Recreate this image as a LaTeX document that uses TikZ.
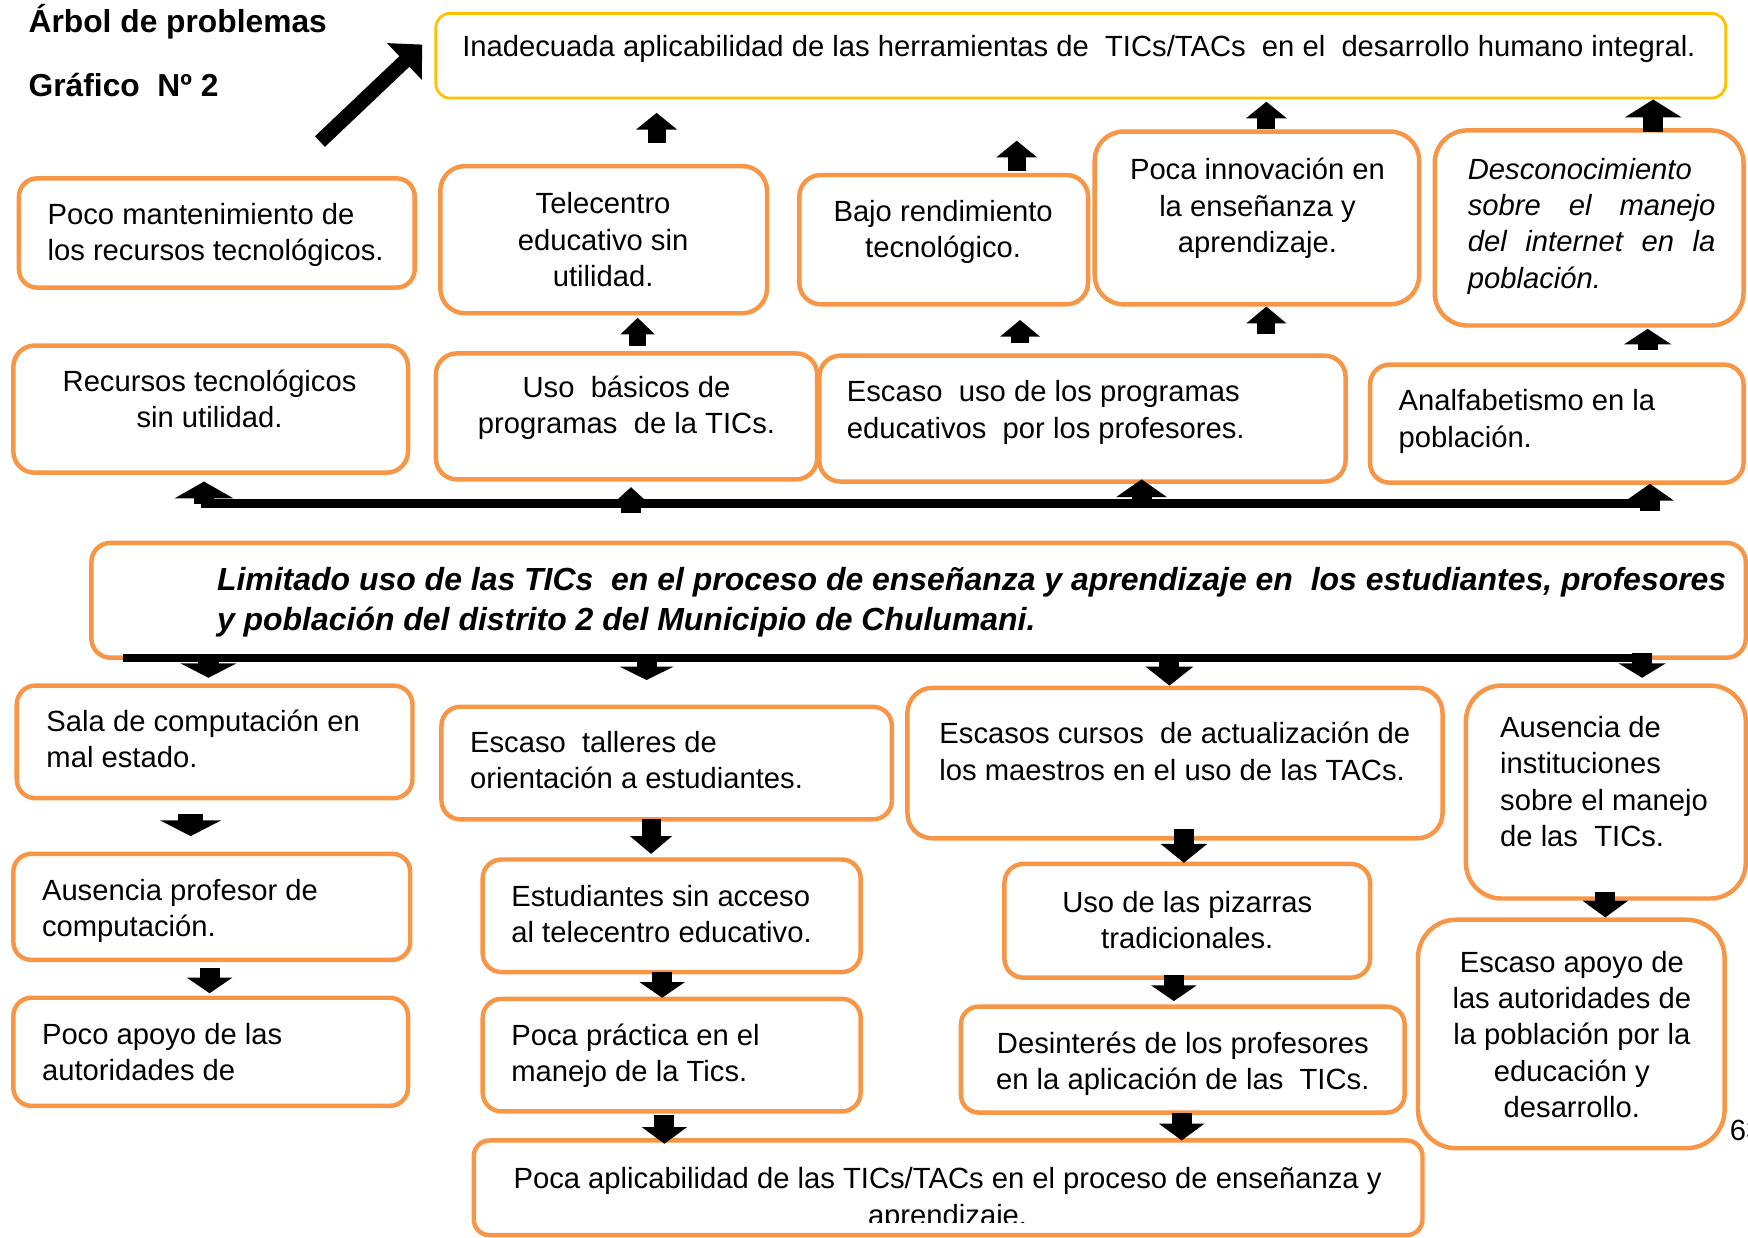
\documentclass[tikz,border=0pt]{standalone}
\usepackage{fontspec}
\setmainfont{Liberation Sans}
\usetikzlibrary{arrows.meta,calc}
\definecolor{orng}{HTML}{F79646}
\definecolor{yel}{HTML}{FFC000}
\tikzset{
 obox/.style={draw=orng, line width=0.04cm, fill=white, inner sep=0pt},
 ybox/.style={draw=yel, line width=0.025cm, fill=white, inner sep=0pt},
 txt/.style={inner sep=0pt, font=\fontsize{7.45}{9.25}\selectfont},
 ttl/.style={inner sep=0pt, font=\fontsize{8.1}{10}\selectfont\bfseries},
 mtxt/.style={inner sep=0pt, align=left, font=\fontsize{8.15}{10.24}\selectfont\bfseries\itshape},
 blkar/.style n args={3}{line width=#1cm, -{Triangle[width=#2cm,length=#3cm]}},
 barline/.style={line width=0.08cm}
}
\newcommand\mybox[6]{%
 \pgfmathsetmacro\mybw{(#4-#2)*0.01}%
 \pgfmathsetmacro\mybh{(#5-#3)*0.01}%
 \pgfmathsetmacro\mybr{0.167*min(#4-#2,#5-#3)*0.01}%
 \node[#6, minimum width=\mybw cm, minimum height=\mybh cm, rounded corners=\mybr cm] (#1) at ({(#2+#4)/2},{(#3+#5)/2}) {};}
\begin{document}
\begin{tikzpicture}[x=0.01cm,y=-0.01cm]
\useasboundingbox (0,0) rectangle (1568,1110);
% titles
\node[ttl, anchor=base west] (title) at (25,29) {Árbol de problemas};
\node[ttl, anchor=base west] (graf) at (25,87) {Gráfico\ \ Nº 2};
% top box
\mybox{top}{391}{12}{1548}{88}{ybox}
\node[txt, anchor=west] (topt) at (414,44) {Inadecuada aplicabilidad de las herramientas de\ \ TICs/TACs\ \ en el\ \ desarrollo humano integral.};
% row A
\mybox{A1}{17}{160}{372}{258}{obox}
\node[txt, anchor=west, align=left] (A1t) at (42,211) {Poco mantenimiento de\\los recursos tecnológicos.};
\mybox{A2}{395}{149}{688}{281}{obox}
\node[txt, align=center] (A2t) at (541,215) {Telecentro\\educativo sin\\utilidad.};
\mybox{A3}{717}{157}{976}{273}{obox}
\node[txt, align=center] (A3t) at (846,208) {Bajo rendimiento\\tecnológico.};
\mybox{A4}{982}{118}{1273}{273}{obox}
\node[txt, align=center] (A4t) at (1128,187) {Poca innovación en\\la enseñanza y\\aprendizaje.};
\mybox{A5}{1287}{117}{1564}{292}{obox}
\node[txt, anchor=west, align=left, font=\fontsize{7.45}{9.25}\selectfont\itshape] (A5t) at (1316,203) {Desconocimiento\\\makebox[2.22cm][s]{sobre el manejo}\\\makebox[2.22cm][s]{del internet en la}\\población.};
% row B
\mybox{B1}{12}{310}{366}{424}{obox}
\node[txt, align=center] (B1t) at (188,358) {Recursos tecnológicos\\sin utilidad.};
\mybox{B2}{391}{317}{733}{430}{obox}
\node[txt, align=center] (B2t) at (562,366) {Uso\ \ básicos de\\programas\ \ de la TICs.};
\mybox{B3}{735}{319}{1207}{432}{obox}
\node[txt, anchor=west, align=left] (B3t) at (759,370) {Escaso\ \ uso de los programas\\educativos\ \ por los profesores.};
\mybox{B4}{1229}{327}{1564}{433}{obox}
\node[txt, anchor=west, align=left] (B4t) at (1254,378) {Analfabetismo en la\\población.};
% central
\mybox{M}{82}{487}{1566}{590}{obox}
\node[mtxt, anchor=west] (Mt) at (194,540) {Limitado uso de las TICs\ \ en el proceso de enseñanza y aprendizaje en\ \ los estudiantes, profesores\\y población del distrito 2 del Municipio de Chulumani.};
% row C
\mybox{C1}{15}{615}{370}{716}{obox}
\node[txt, anchor=west, align=left] (C1t) at (41,663) {Sala de computación en\\mal estado.};
\mybox{C2}{396}{634}{800}{735}{obox}
\node[txt, anchor=west, align=left] (C2t) at (421,682) {Escaso\ \ talleres de\\orientación a estudiantes.};
\mybox{C3}{814}{617}{1294}{752}{obox}
\node[txt, anchor=west, align=left] (C3t) at (842,674) {Escasos cursos\ \ de actualización de\\los maestros en el uso de las TACs.};
\mybox{C4}{1315}{615}{1566}{806}{obox}
\node[txt, anchor=west, align=left] (C4t) at (1345,701) {Ausencia de\\instituciones\\sobre el manejo\\de las\ \ TICs.};
% row D
\mybox{D1}{12}{766}{368}{861}{obox}
\node[txt, anchor=west, align=left] (D1t) at (37,817) {Ausencia profesor de\\computación.};
\mybox{D2}{433}{771}{772}{872}{obox}
\node[txt, anchor=west, align=left] (D2t) at (458,820) {Estudiantes sin acceso\\al telecentro educativo.};
\mybox{D3}{901}{775}{1229}{877}{obox}
\node[txt, align=center] (D3t) at (1065,825) {Uso de las pizarras\\tradicionales.};
\mybox{D4}{1272}{825}{1547}{1030}{obox}
\node[txt, align=center] (D4t) at (1410,928) {Escaso apoyo de\\las autoridades de\\la población por la\\educación y\\desarrollo.};
% row E
\mybox{E1}{12}{895}{366}{992}{obox}
\node[txt, anchor=west, align=left] (E1t) at (37,944) {Poco apoyo de las\\autoridades de};
\mybox{E2}{433}{896}{772}{997}{obox}
\node[txt, anchor=west, align=left] (E2t) at (458,947) {Poca práctica en el\\manejo de la Tics.};
\mybox{E3}{862}{903}{1260}{998}{obox}
\node[txt, align=center] (E3t) at (1061,954) {Desinterés de los profesores\\en la aplicación de las\ \ TICs.};
% bottom box
\mybox{F}{425}{1023}{1276}{1108}{obox}
\begin{scope}
\clip (425,1023) rectangle (1276,1097);
\node[txt, align=center] (Ft) at (850,1076) {Poca aplicabilidad de las TICs/TACs en el proceso de enseñanza y\\aprendizaje.};
\end{scope}
% page number
\node[txt, anchor=base west] (pg) at (1551,1023) {63};
% bars
\coordinate (ubl) at (180,452);
\coordinate (ubr) at (1478,452);
\draw[barline] (ubl) -- (ubr);
\coordinate (lbl) at (110,590);
\coordinate (lbr) at (1480,590);
\draw[barline, line width=0.07cm] (lbl) -- (lbr);
% diagonal arrow
\coordinate (dg1) at (287,127);
\draw[line width=0.13cm, -{Triangle[width=0.44cm,length=0.22cm]}] (dg1) -- ($(top.west)+(-11,-10)$);
% arrows A -> top
\draw[blkar={0.16}{0.36}{0.15}] ($(A2.north)+(47.5,-19)$) -- ($(top.south)+(-380.5,12)$);
\draw[blkar={0.16}{0.36}{0.15}] ($(A3.north)+(65.5,-2)$) -- ($(top.south)+(-57.5,37)$);
\draw[blkar={0.16}{0.36}{0.15}] ($(A4.north)+(8.5,0)$) -- ($(top.south)+(166.5,2)$);
\draw[blkar={0.18}{0.50}{0.16}] ($(A5.north)+(57.5,3)$) -- ($(top.south)+(513.5,0)$);
% arrows B -> A
\draw[blkar={0.15}{0.30}{0.15}] ($(B2.north)+(10,-5)$) -- ($(A2.south)+(30.5,2)$);
\draw[blkar={0.16}{0.35}{0.15}] ($(B3.north)+(-56,-9)$) -- ($(A3.south)+(68.5,12)$);
\draw[blkar={0.16}{0.35}{0.15}] ($(B3.north)+(165,-17)$) -- ($(A4.south)+(8.5,0)$);
\draw[blkar={0.18}{0.42}{0.14}] ($(B4.north)+(81.5,-11)$) -- ($(A5.south)+(52.5,1)$);
% arrows bar -> B
\draw[blkar={0.18}{0.52}{0.15}] ($(ubl)+(3,0)$) -- ($(B1.south)+(-6,6)$);
\draw[blkar={0.18}{0.34}{0.16}] ($(ubl)+(386,8)$) -- ($(B2.south)+(4,5)$);
\draw[blkar={0.18}{0.45}{0.16}] ($(ubl)+(844,0)$) -- ($(B3.south)+(53,-4)$);
\draw[blkar={0.18}{0.42}{0.15}] ($(ubl)+(1300,6)$) -- ($(B4.south)+(83.5,-1)$);
% arrows bar -> C
\draw[blkar={0.18}{0.50}{0.13}] ($(lbl)+(77,0)$) -- ($(C1.north)+(-5.5,-5)$);
\draw[blkar={0.18}{0.48}{0.12}] ($(lbl)+(470,0)$) -- ($(C2.north)+(-18,-22)$);
\draw[blkar={0.18}{0.42}{0.17}] ($(lbl)+(939,-2)$) -- ($(C3.north)+(-5,0)$);
\draw[blkar={0.18}{0.42}{0.13}] ($(lbl)+(1363,-4)$) -- ($(C4.north)+(32.5,-5)$);
% arrows C -> D
\draw[blkar={0.22}{0.54}{0.14}] ($(C1.south)+(-21.5,12)$) -- ($(D1.north)+(-19,-14)$);
\draw[blkar={0.17}{0.37}{0.16}] ($(C2.south)+(-14,-2)$) -- ($(D2.north)+(-18.5,-3)$);
\draw[blkar={0.18}{0.41}{0.17}] ($(C3.south)+(8,-10)$) -- ($(D3.north)+(-3,1)$);
\draw[blkar={0.18}{0.40}{0.15}] ($(C4.south)+(-0.5,-8)$) -- ($(D4.north)+(30.5,0)$);
% arrows D -> E
\draw[blkar={0.18}{0.40}{0.14}] ($(D1.south)+(-2,5)$) -- ($(E1.north)+(-1,-2)$);
\draw[blkar={0.18}{0.40}{0.14}] ($(D2.south)+(-8.5,-2)$) -- ($(E2.north)+(-8.5,1)$);
\draw[blkar={0.18}{0.40}{0.14}] ($(D3.south)+(-12,-4)$) -- ($(E3.north)+(-8,-3)$);
% arrows E -> F
\draw[blkar={0.18}{0.40}{0.15}] ($(E2.south)+(-6.5,1)$) -- ($(F.north)+(-254.5,5)$);
\draw[blkar={0.18}{0.40}{0.15}] ($(E3.south)+(-1,-2)$) -- ($(F.north)+(209.5,2)$);
\end{tikzpicture}
\end{document}
